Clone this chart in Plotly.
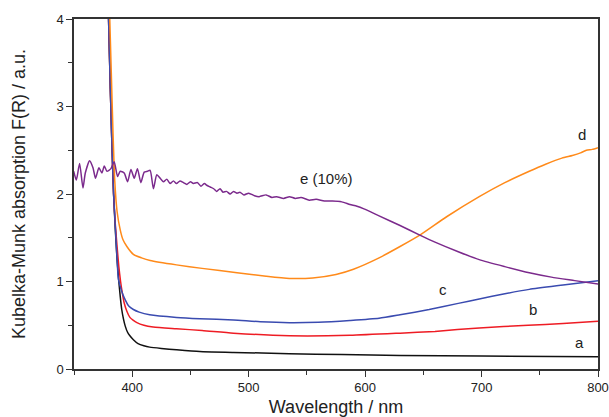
import plotly.graph_objects as go

# ---- data ----
a_x = [379.5, 381, 382.5, 384, 385.5, 387, 388.5, 389.7, 391, 392.5, 394, 396, 398, 401, 405, 410, 415, 425, 438, 458, 487, 535, 580, 630, 700, 800]
a_y = [4.1, 3.3, 2.6, 2.0, 1.59, 1.25, 1.0, 0.83, 0.68, 0.57, 0.49, 0.42, 0.38, 0.335, 0.29, 0.265, 0.25, 0.235, 0.22, 0.20, 0.19, 0.175, 0.165, 0.155, 0.148, 0.14]

b_x = [379.5, 381, 382.5, 384, 385.5, 387, 388.5, 390, 391, 393, 395.4, 398, 401, 404, 410, 418, 438, 460, 487, 535, 587, 630, 660, 698, 740, 770, 800]
b_y = [4.1, 3.3, 2.6, 2.0, 1.65, 1.40, 1.17, 1.00, 0.91, 0.76, 0.66, 0.59, 0.555, 0.53, 0.50, 0.48, 0.46, 0.44, 0.41, 0.38, 0.385, 0.41, 0.43, 0.47, 0.50, 0.52, 0.545]

c_x = [379.5, 381, 382.5, 384, 385.5, 387, 388.2, 390, 392, 394, 397, 401, 406, 415, 438, 458, 487, 510, 535, 560, 587, 612, 630, 655, 680, 698, 720, 741, 770, 800]
c_y = [4.1, 3.3, 2.6, 2.0, 1.62, 1.25, 1.02, 0.93, 0.85, 0.79, 0.72, 0.68, 0.65, 0.62, 0.59, 0.575, 0.56, 0.54, 0.53, 0.535, 0.555, 0.58, 0.62, 0.68, 0.75, 0.80, 0.86, 0.91, 0.96, 1.01]

d_x = [380.5, 382, 383.5, 385, 387, 389.7, 392, 395.4, 401, 408, 415.4, 438, 460, 490, 515, 535, 555, 575, 590, 612, 630, 647, 670, 698, 720, 741, 755, 769, 778, 785, 790, 795, 800]
d_y = [4.1, 3.4, 2.7, 2.15, 1.8, 1.59, 1.48, 1.40, 1.31, 1.27, 1.24, 1.19, 1.15, 1.10, 1.06, 1.035, 1.04, 1.08, 1.14, 1.27, 1.40, 1.53, 1.74, 1.97, 2.13, 2.26, 2.34, 2.41, 2.44, 2.47, 2.50, 2.51, 2.53]

e_x = [349.7, 352, 354.8, 357.7, 359.7, 363.4, 366.3, 368.5, 371.4, 374, 376, 378.3, 381.7, 384.5, 387.4, 389.7,
       393.1, 396, 398.9, 401.7, 404.5, 407.4, 410.3, 413.1, 415.4, 418.2, 421.1, 424, 426.8, 429.7, 432.5, 435.4,
       438, 441, 444, 447, 450, 452.5, 456, 459, 462, 464, 467, 470, 472.5, 475.4, 478, 481, 484, 487, 490, 492.5,
       496, 500, 505, 509, 515, 520, 524, 530, 535, 540, 545, 552, 558, 565, 572, 580, 587, 593, 599, 612, 630, 647, 660,
       680, 698, 720, 741, 760, 780, 800]
e_y = [2.26, 2.16, 2.35, 2.07, 2.24, 2.38, 2.30, 2.18, 2.30, 2.24, 2.32, 2.26, 2.29, 2.37, 2.20, 2.26,
       2.24, 2.14, 2.28, 2.18, 2.29, 2.13, 2.25, 2.26, 2.27, 2.06, 2.22, 2.18, 2.14, 2.17, 2.12, 2.15,
       2.12, 2.15, 2.13, 2.11, 2.14, 2.12, 2.13, 2.09, 2.12, 2.10, 2.08, 2.06, 2.03, 2.06, 2.02, 2.03, 2.00, 2.03, 2.01, 2.02,
       1.99, 2.01, 1.98, 1.97, 1.99, 1.96, 1.97, 1.95, 1.97, 1.95, 1.96, 1.93, 1.94, 1.92, 1.92, 1.91, 1.88, 1.86, 1.83, 1.75, 1.64, 1.53, 1.45,
       1.34, 1.25, 1.17, 1.10, 1.05, 1.01, 0.97]

series = [
    ("a", a_x, a_y, "#111111"),
    ("b", b_x, b_y, "#ee1c24"),
    ("c", c_x, c_y, "#3a4bb0"),
    ("d", d_x, d_y, "#ff8a1a"),
    ("e (10%)", e_x, e_y, "#7b2a8c"),
]

labels = ["d", "e (10%)", "c", "b", "a"]
label_x = [786.5, 567, 666.5, 744.5, 784]
label_y = [2.68, 2.18, 0.91, 0.68, 0.30]

x_ticks = [400, 500, 600, 700, 800]
y_ticks = [0, 1, 2, 3, 4]

fig = go.Figure()
for name, xs, ys, col in series:
    fig.add_trace(go.Scatter(x=xs, y=ys, mode="lines", name=name,
                             line=dict(color=col, width=1.5, shape="spline", smoothing=0.6),
                             showlegend=False, hoverinfo="skip"))

for t, lx, ly in zip(labels, label_x, label_y):
    fig.add_annotation(x=lx, y=ly, text=t, showarrow=False,
                       font=dict(size=15, color="#222222"))

axis_common = dict(showgrid=False, zeroline=False, showline=True, linecolor="#333333",
                   linewidth=1.5, mirror=True, ticks="outside", ticklen=6, tickwidth=1.2,
                   tickcolor="#333333", tickfont=dict(size=13, color="#222222"),
                   automargin=False)

fig.update_xaxes(range=[350, 800], tickvals=x_ticks,
                 minor=dict(ticks="outside", ticklen=4, tickwidth=1.2, tickcolor="#333333", dtick=50, tick0=350),
                 title=dict(text="Wavelength / nm", font=dict(size=18, color="#222222"), standoff=9),
                 **axis_common)
fig.update_yaxes(range=[0, 4], tickvals=y_ticks,
                 minor=dict(ticks="outside", ticklen=4, tickwidth=1.2, tickcolor="#333333", dtick=0.5, tick0=0),
                 title=dict(text="Kubelka-Munk absorption F(R) / a.u.", font=dict(size=18, color="#222222"), standoff=26),
                 **axis_common)

fig.update_layout(width=609, height=417, margin=dict(l=74, r=11, t=19, b=48),
                  plot_bgcolor="white", paper_bgcolor="white",
                  font=dict(family="Liberation Sans, Arial, sans-serif"))

fig.write_html("out.html", config={"displayModeBar": False},
               post_script="document.body.style.margin='0';document.body.style.overflow='hidden';")
